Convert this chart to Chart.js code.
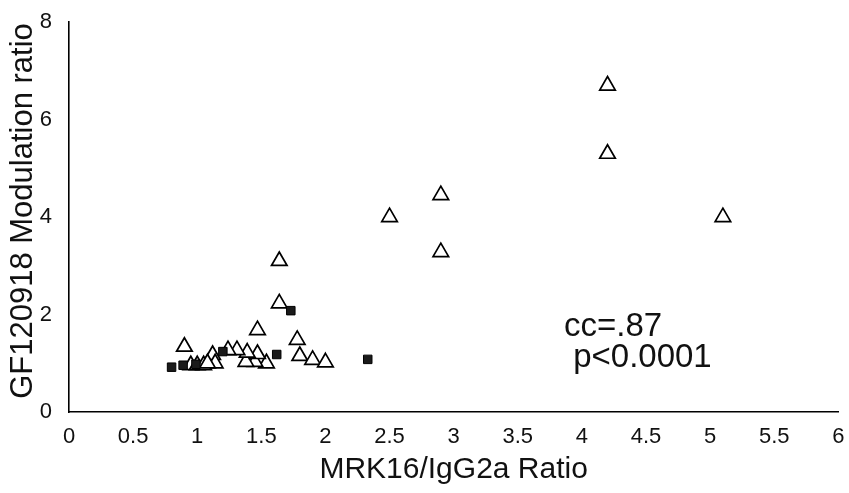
<!DOCTYPE html>
<html>
<head>
<meta charset="utf-8">
<script src="https://cdn.jsdelivr.net/npm/chart.js@4.4.0/dist/chart.umd.min.js"></script>
<style>
  html, body { margin: 0; padding: 0; background: #fff; }
  #wrap { width: 849px; height: 493px; position: relative; }
</style>
</head>
<body>
<div id="wrap"><canvas id="scatter"></canvas></div>
<script>
// Values
const triangleX = [4.2, 4.2, 5.1, 2.9, 2.5, 2.9, 1.64, 1.64, 1.47, 1.78, 0.9, 1.8, 1.9, 2.0, 1.54, 1.45, 1.38, 1.47, 1.39, 1.31, 1.24, 1.12, 1.14, 0.95, 1.0, 1.05, 1.08];
const triangleY = [6.7, 5.3, 4.0, 4.45, 4.0, 3.28, 3.1, 2.23, 1.68, 1.48, 1.34, 1.15, 1.07, 1.02, 1.0, 1.03, 1.03, 1.19, 1.22, 1.27, 1.27, 1.17, 1.0, 0.96, 0.96, 0.96, 1.0];
const squareX = [0.8, 0.89, 0.99, 1.2, 1.62, 1.73, 2.33];
const squareY = [0.92, 0.96, 0.98, 1.24, 1.18, 2.08, 1.08];

const xTitle = 'MRK16/IgG2a Ratio';
const yTitle = 'GF120918 Modulation ratio';
const noteLines = ['cc=.87', ' p<0.0001'];

const toPoints = (xs, ys) => xs.map((x, i) => ({ x: x, y: ys[i] }));
const FONT = '"Liberation Sans", Arial, sans-serif';

// titles and the correlation note, drawn straight on the canvas
const textPlugin = {
    id: 'texts',
    afterDraw(chart) {
        const ctx = chart.ctx;
        const area = chart.chartArea;
        ctx.save();
        ctx.fillStyle = '#111';
        ctx.textAlign = 'center';
        ctx.textBaseline = 'middle';

        ctx.font = '30px ' + FONT;
        ctx.fillText(xTitle, (area.left + area.right) / 2, 470);

        ctx.save();
        ctx.translate(23, 211);
        ctx.rotate(-Math.PI / 2);
        ctx.font = '31px ' + FONT;
        ctx.fillText(yTitle, 0, 0);
        ctx.restore();

        ctx.textAlign = 'left';
        ctx.textBaseline = 'alphabetic';
        ctx.font = '33px ' + FONT;
        ctx.fillText(noteLines[0], 564, 336);
        ctx.fillText(noteLines[1], 564, 367);
        ctx.restore();
    }
};

new Chart(document.getElementById('scatter'), {
    type: 'scatter',
    data: {
        datasets: [{
            label: 'squares',
            data: toPoints(squareX, squareY),
            pointStyle: 'rect',
            pointRadius: 6,
            backgroundColor: '#1a1a1a',
            borderColor: '#000',
            borderWidth: 1
        }, {
            label: 'triangles',
            data: toPoints(triangleX, triangleY),
            pointStyle: 'triangle',
            pointRadius: 9,
            backgroundColor: '#fff',
            borderColor: '#000',
            borderWidth: 1.7
        }]
    },
    options: {
        responsive: true,
        maintainAspectRatio: false,
        animation: false,
        layout: { padding: { top: 22, right: 9, left: 0, bottom: 0 } },
        plugins: {
            legend: { display: false },
            tooltip: { enabled: false }
        },
        scales: {
            x: {
                type: 'linear',
                min: 0,
                max: 6,
                grid: { display: false },
                border: { display: true, color: '#000', width: 1.6 },
                ticks: {
                    stepSize: 0.5,
                    color: '#111',
                    padding: 4,
                    maxRotation: 0,
                    autoSkip: false,
                    callback: v => String(Number(v.toFixed(1))),
                    font: { family: FONT, size: 22 }
                },
                afterFit(scale) { scale.height = 81; }
            },
            y: {
                type: 'linear',
                min: 0,
                max: 8,
                grid: { display: false },
                border: { display: true, color: '#000', width: 1.6 },
                ticks: {
                    stepSize: 2,
                    color: '#111',
                    padding: 9,
                    font: { family: FONT, size: 22 }
                },
                afterFit(scale) { scale.width = 69; }
            }
        }
    },
    plugins: [textPlugin]
});
</script>
</body>
</html>
